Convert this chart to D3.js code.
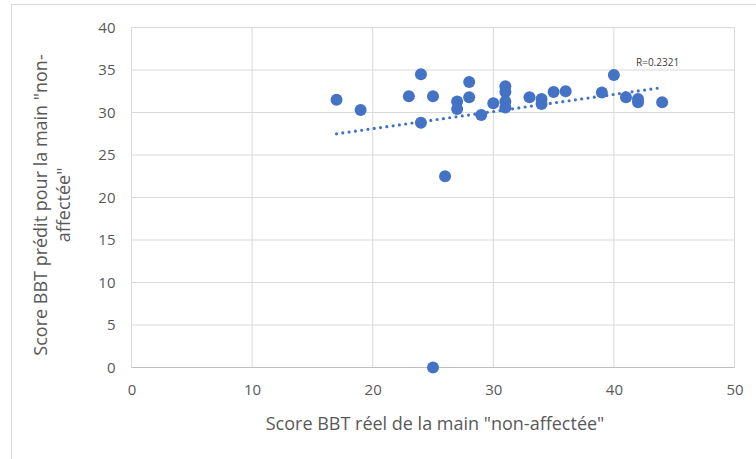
<!DOCTYPE html>
<html>
<head>
<meta charset="utf-8">
<script src="https://cdn.jsdelivr.net/npm/d3@7"></script>
<style>
  html, body { margin: 0; padding: 0; background: #fff; }
  svg { display: block; font-family: "Open Sans", Lato, sans-serif; }
</style>
</head>
<body>
<svg id="chart" width="756" height="459"></svg>
<script>
// Actual BBT score of the "non-affected" hand
const actualScores = [17, 19, 23, 24, 24, 25, 25, 26, 27, 27, 28, 28, 29, 30,
  31, 31, 31, 31, 33, 34, 34, 35, 36, 39, 40, 41, 42, 42, 44];
// Predicted BBT score of the "non-affected" hand
const predictedScores = [31.5, 30.3, 31.9, 34.5, 28.8, 31.9, 0, 22.5, 31.3, 30.4, 33.6, 31.8, 29.7, 31.1,
  33.1, 32.4, 31.3, 30.6, 31.8, 31.6, 31.0, 32.4, 32.5, 32.35, 34.4, 31.8, 31.6, 31.2, 31.2];

const xTicks = [0, 10, 20, 30, 40, 50];
const yTicks = [0, 5, 10, 15, 20, 25, 30, 35, 40];
const xTitle = 'Score BBT réel de la main "non-affectée"';
const yTitleLines = ['Score BBT prédit pour la main "non-', 'affectée"'];
const rLabel = 'R=0.2321';

const svg = d3.select('#chart');
const W = 756, H = 459;
const plot = { left: 131.5, right: 734.5, top: 27.5, bottom: 367.5 };

const x = d3.scaleLinear().domain([0, 50]).range([plot.left, plot.right]);
const y = d3.scaleLinear().domain([0, 40]).range([plot.bottom, plot.top]);

const textColor = '#595959';
const gridColor = '#d9d9d9';
const markColor = '#4472C4';
const fontFamily = '"Open Sans", Lato, sans-serif';

// Chart area border
svg.append('rect')
  .attr('x', 11.5).attr('y', 4.5)
  .attr('width', W).attr('height', H)
  .attr('fill', 'none').attr('stroke', gridColor).attr('stroke-width', 1);

// Vertical gridlines
svg.append('g').selectAll('line').data(xTicks).join('line')
  .attr('x1', d => x(d)).attr('x2', d => x(d))
  .attr('y1', plot.top).attr('y2', plot.bottom)
  .attr('stroke', gridColor).attr('stroke-width', 1);

// Horizontal gridlines
svg.append('g').selectAll('line').data(yTicks.filter(d => d > 0)).join('line')
  .attr('x1', plot.left).attr('x2', plot.right)
  .attr('y1', d => y(d)).attr('y2', d => y(d))
  .attr('stroke', gridColor).attr('stroke-width', 1);

// Horizontal axis line
svg.append('line')
  .attr('x1', plot.left).attr('x2', plot.right)
  .attr('y1', y(0)).attr('y2', y(0))
  .attr('stroke', '#bfbfbf').attr('stroke-width', 1);

// Bottom axis tick labels
const xAxis = d3.axisBottom(x).tickValues(xTicks).tickSize(0).tickPadding(0);
const gx = svg.append('g').attr('transform', `translate(0,${plot.bottom + 17})`).call(xAxis);
gx.select('.domain').remove();
gx.selectAll('text')
  .attr('dy', '0.71em')
  .attr('fill', textColor)
  .style('font-size', '15px')
  .style('font-family', fontFamily);

// Left axis tick labels
const yAxis = d3.axisLeft(y).tickValues(yTicks).tickSize(0).tickPadding(0);
const gy = svg.append('g').attr('transform', `translate(${plot.left - 16},0)`).call(yAxis);
gy.select('.domain').remove();
gy.selectAll('text')
  .attr('fill', textColor)
  .style('font-size', '15px')
  .style('font-family', fontFamily);

// Linear trendline (least squares) over the observed range
const n = actualScores.length;
const mx = d3.mean(actualScores), my = d3.mean(predictedScores);
let sxy = 0, sxx = 0;
for (let i = 0; i < n; i++) {
  sxy += (actualScores[i] - mx) * (predictedScores[i] - my);
  sxx += (actualScores[i] - mx) ** 2;
}
const slope = sxy / sxx, intercept = my - slope * mx;
const [xMin, xMax] = d3.extent(actualScores);
const trend = [xMin, xMax].map(v => [v, intercept + slope * v]);

svg.append('path')
  .datum(trend)
  .attr('d', d3.line().x(d => x(d[0])).y(d => y(d[1])))
  .attr('fill', 'none')
  .attr('stroke', markColor)
  .attr('stroke-width', 3.2)
  .attr('stroke-linecap', 'round')
  .attr('stroke-dasharray', '0,6.35');

// Scatter points
svg.append('g').selectAll('circle').data(actualScores.map((v, i) => [v, predictedScores[i]])).join('circle')
  .attr('cx', d => x(d[0]))
  .attr('cy', d => y(d[1]))
  .attr('r', 6)
  .attr('fill', markColor);

// Correlation label
svg.append('text')
  .attr('x', 636).attr('y', 66)
  .attr('fill', '#404040')
  .style('font-size', '10px')
  .text(rLabel);

// Axis titles
svg.append('text')
  .attr('x', 435)
  .attr('y', 430)
  .attr('text-anchor', 'middle')
  .attr('fill', textColor)
  .style('font-size', '18px')
  .text(xTitle);

const yTitle = svg.append('text')
  .attr('transform', `translate(47,205) rotate(-90)`)
  .attr('text-anchor', 'middle')
  .attr('fill', textColor)
  .style('font-size', '18px');
yTitleLines.forEach((line, i) => {
  yTitle.append('tspan')
    .attr('x', 0)
    .attr('dy', i === 0 ? 0 : 23)
    .text(line);
});
</script>
</body>
</html>
